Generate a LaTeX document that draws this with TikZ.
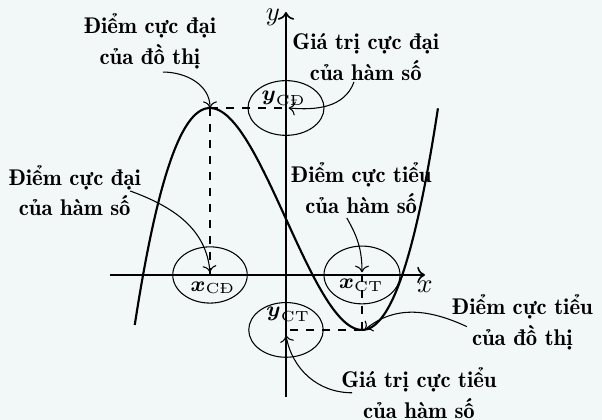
\documentclass[tikz,border=0pt]{standalone}
\usepackage{amsmath}
\usepackage{fontspec}
\usepackage{xcolor}
\usetikzlibrary{positioning, arrows.meta}
\definecolor{nen}{RGB}{242,248,248}
\newfontfamily\demifont{lmromandemi10-regular.otf}

\begin{document}
\begin{tikzpicture}[
    chu/.style={align=center, font=\fontsize{8.5}{11.6}\selectfont\demifont, inner sep=0pt},
    nhan/.style={font=\fontsize{7.8}{9}\selectfont, inner sep=0pt},
    vung/.style={draw, thin},
    chidan/.style={draw, ->, thin},
    netdut/.style={draw, dashed, thick},
    truc/.style={draw, ->, semithick}
]
\fill[nen] (-3.763,-1.908) rectangle (4.158,3.618);
\useasboundingbox (-3.763,-1.908) rectangle (4.158,3.618);

\coordinate (xdau) at (-2.316,0);
\coordinate (xcuoi) at (1.829,0);
\coordinate (ydau) at (0,-1.605);
\coordinate (ycuoi) at (0,3.46);
\coordinate (CD) at (-1,2.197);
\coordinate (CT) at (1,-0.723);
\coordinate (xcd) at (-1,0);
\coordinate (xct) at (1,0);
\coordinate (ycd) at (0,2.197);
\coordinate (yct) at (0,-0.723);

\draw[truc] (xdau) -- (xcuoi) node[below=2pt, inner sep=0pt] (nx) {$x$};
\draw[truc] (ydau) -- (ycuoi) node[left=2pt, inner sep=0pt, yshift=-2pt] (ny) {$y$};

\draw[thick, domain=-1.99:2, samples=120, smooth] plot (\x, {0.73*(\x*\x*\x-3*\x)+0.737});

\draw[netdut] (CD) -- (xcd);
\draw[netdut] (CD) -- (ycd);
\draw[netdut] (CT) -- (xct);
\draw[netdut] (CT) -- (yct);

\draw[vung] (xcd) ellipse [x radius=0.49, y radius=0.37];
\draw[vung] (xct) ellipse [x radius=0.5, y radius=0.38];
\draw[vung] (ycd) ellipse [x radius=0.5, y radius=0.36];
\draw[vung] (yct) ellipse [x radius=0.49, y radius=0.36];

\node[nhan] (lxcd) at (-0.96,-0.17) {$\boldsymbol{x}_{\textnormal{CĐ}}$};
\node[nhan] (lxct) at (0.99,-0.14) {$\boldsymbol{x}_{\textnormal{CT}}$};
\node[nhan] (lycd) at (-0.03,2.32) {$\boldsymbol{y}_{\textnormal{CĐ}}$};
\node[nhan] (lyct) at (0.03,-0.52) {$\boldsymbol{y}_{\textnormal{CT}}$};

\node[chu] (t1) at (-1.79,3.07) {Điểm cực đại\\của đồ thị};
\node[chu] (t2) at (1.05,2.87) {Giá trị cực đại\\của hàm số};
\node[chu] (t3) at (-2.78,1.11) {Điểm cực đại\\của hàm số};
\node[chu] (t4) at (0.99,1.14) {Điểm cực tiểu\\của hàm số};
\node[chu] (t5) at (3.11,-0.62) {Điểm cực tiểu\\của đồ thị};
\node[chu] (t6) at (1.75,-1.55) {Giá trị cực tiểu\\của hàm số};

\coordinate (s1) at (-1.62,2.67);
\coordinate (s2) at (0.895,2.54);
\coordinate (s3) at (-2.05,1.105);
\coordinate (s4) at (0.80,0.75);
\coordinate (s5) at (2.38,-0.68);
\coordinate (s6) at (0.87,-1.55);

\draw[chidan] (s1) to[out=0, in=90] (CD);
\draw[chidan] (s2) to[out=-110, in=-5] ([xshift=1pt]ycd);
\draw[chidan] (s3) to[out=-20, in=95] ([yshift=1pt]xcd);
\draw[chidan] (s4) to[out=-60, in=90] ([yshift=1pt]xct);
\draw[chidan] (s5) to[out=155, in=40] ([xshift=1pt]CT);
\draw[chidan] (s6) to[out=180, in=-80] ([yshift=-2pt]yct);
\end{tikzpicture}
\end{document}
